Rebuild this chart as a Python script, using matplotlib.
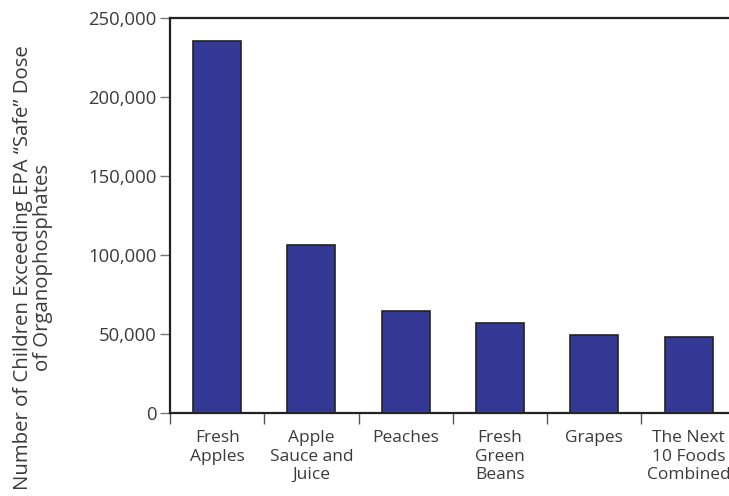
import matplotlib
matplotlib.use("Agg")
import matplotlib.pyplot as plt
import numpy as np
from matplotlib.ticker import FuncFormatter, FixedLocator

categories = ["Fresh\nApples", "Apple\nSauce and\nJuice", "Peaches",
              "Fresh\nGreen\nBeans", "Grapes", "The Next\n10 Foods\nCombined"]
children = [235000, 106000, 64600, 57200, 49500, 48000]
y_ticks = [0, 50000, 100000, 150000, 200000, 250000]

plt.rcParams['font.family'] = ['Open Sans', 'DejaVu Sans']
text_color = "#3a3a3a"

fig = plt.figure(figsize=(7.29, 4.96), dpi=100)
ax = fig.add_axes([0.2332, 0.1667, 1.0093 - 0.2332, 0.9647 - 0.1667])

x = np.arange(len(categories))
ax.bar(x, children, width=0.51, color="#333894", edgecolor="#222222",
       linewidth=1.2, zorder=3)

ax.set_xlim(-0.5, len(categories) - 0.5)
ax.set_ylim(0, 250000)

# major x ticks sit on category boundaries, labels on category centres
ax.xaxis.set_major_locator(FixedLocator(np.arange(len(categories)) - 0.5))
ax.xaxis.set_minor_locator(FixedLocator(x))
ax.set_xticklabels([""] * len(categories))
ax.set_xticklabels(categories, minor=True)
ax.tick_params(axis="x", which="major", direction="out", length=8,
               width=1, color="#555555")
ax.tick_params(axis="x", which="minor", length=0, pad=12,
               labelsize=12.5, labelcolor=text_color)
for lbl in ax.get_xticklabels(minor=True):
    lbl.set_linespacing(1.22)

ax.set_yticks(y_ticks)
ax.yaxis.set_major_formatter(FuncFormatter(lambda v, p: f"{int(v):,}"))
ax.tick_params(axis="y", direction="out", length=7.5, width=1,
               color="#777777", labelsize=13.3, labelcolor=text_color, pad=2)

for side in ["left", "bottom", "top"]:
    ax.spines[side].set_linewidth(1.6)
    ax.spines[side].set_color("#222222")
ax.spines["right"].set_visible(False)

fig.text(0.045, 0.46,
         "Number of Children Exceeding EPA \u201cSafe\u201d Dose\nof Organophosphates",
         rotation=90, ha="center", va="center", fontsize=14.7,
         color=text_color, linespacing=1.0)

fig.savefig("out.png", dpi=100)
